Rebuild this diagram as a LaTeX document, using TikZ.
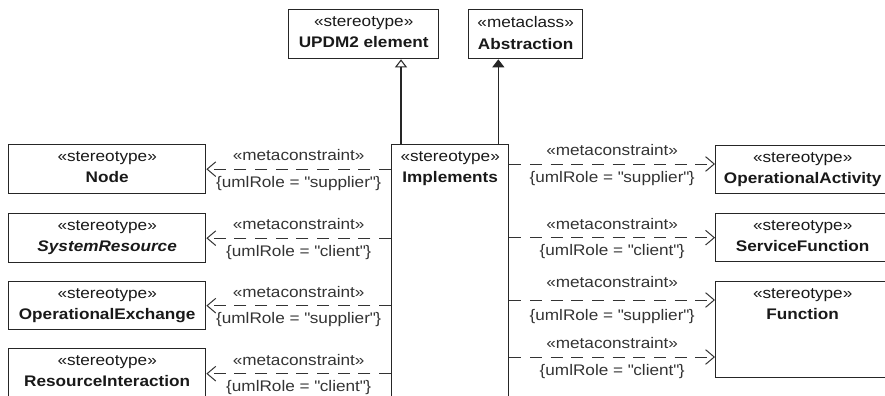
\documentclass[tikz,border=0pt]{standalone}
\usepackage{fontspec}
\setmainfont{Liberation Sans}[FakeStretch=1.12]
\usetikzlibrary{arrows.meta,positioning}

\newcommand{\role}[1]{\{umlRole = \textquotedbl#1\textquotedbl\}}

\tikzset{
  umlbox/.style={draw=black!85, line width=1pt, anchor=north west, inner sep=0pt},
  boxtext/.style={anchor=north, align=center, inner sep=0pt, yshift=-5.5pt, text=black!90},
  metaline/.style={draw=black!80, line width=.75pt, dash pattern=on 9pt off 6.5pt,
    -{Straight Barb[length=6.5pt,width=11pt]}},
  metatop/.style={above=6pt, inner sep=0pt, text=black!80},
  metabot/.style={below=5pt, inner sep=0pt, text=black!80},
  genline/.style={draw=black!85, line width=.8pt, -{Triangle[open,length=6pt,width=9pt]}},
  absline/.style={draw=black!85, line width=.8pt, -{Triangle[length=6pt,width=9pt]}}
}

\begin{document}
\begin{tikzpicture}[x=0.75pt, y=-0.75pt, font=\fontsize{11.5}{16}\selectfont]
\useasboundingbox (0,0) rectangle (885,396);

% general stereotypes on top
\node[umlbox, minimum width=112.5pt, minimum height=36.75pt,
  label={[boxtext]north:«stereotype»\\\textbf{UPDM2 element}}] (updm) at (288,9) {};
\node[umlbox, minimum width=85.5pt, minimum height=36.75pt,
  label={[boxtext]north:«metaclass»\\\textbf{Abstraction}}] (abstr) at (468,9) {};

% the relationship stereotype
\node[umlbox, minimum width=87.75pt, minimum height=192pt,
  label={[boxtext]north:«stereotype»\\\textbf{Implements}}] (impl) at (391,144) {};

% left column
\node[umlbox, minimum width=147.75pt, minimum height=36.75pt,
  label={[boxtext]north:«stereotype»\\\textbf{Node}}] (nde) at (8,144) {};
\node[umlbox, minimum width=147.75pt, minimum height=36.75pt,
  label={[boxtext]north:«stereotype»\\\textbf{\textit{SystemResource}}}] (sysres) at (8,213) {};
\node[umlbox, minimum width=147.75pt, minimum height=36pt,
  label={[boxtext]north:«stereotype»\\\textbf{OperationalExchange}}] (opexch) at (8,281) {};
\node[umlbox, minimum width=147.75pt, minimum height=37.5pt,
  label={[boxtext]north:«stereotype»\\\textbf{ResourceInteraction}}] (resint) at (8,348) {};

% right column
\node[umlbox, minimum width=130.5pt, minimum height=36pt,
  label={[boxtext]north:«stereotype»\\\textbf{OperationalActivity}}] (opact) at (715,145) {};
\node[umlbox, minimum width=130.5pt, minimum height=36pt,
  label={[boxtext]north:«stereotype»\\\textbf{ServiceFunction}}] (svcfn) at (715,213) {};
\node[umlbox, minimum width=130.5pt, minimum height=72pt,
  label={[boxtext]north:«stereotype»\\\textbf{Function}}] (func) at (715,281) {};

% generalization and extension
\coordinate (gen) at ([xshift=7.5pt]impl.north west);
\coordinate (ext) at ([xshift=-8.25pt]impl.north east);
\draw[genline] (gen) -- (gen |- updm.south);
\draw[absline] (ext) -- (ext |- abstr.south);

% metaconstraints to the left
\draw[metaline] (impl.west |- nde.east) -- node[metatop]{«metaconstraint»}
  node[metabot]{\role{supplier}} (nde.east);
\draw[metaline] (impl.west |- sysres.east) -- node[metatop]{«metaconstraint»}
  node[metabot]{\role{client}} (sysres.east);
\draw[metaline] (impl.west |- opexch.east) -- node[metatop]{«metaconstraint»}
  node[metabot]{\role{supplier}} (opexch.east);
\draw[metaline] (impl.west |- resint.east) -- node[metatop]{«metaconstraint»}
  node[metabot]{\role{client}} (resint.east);

% metaconstraints to the right
\draw[metaline] (impl.east |- 0,164) -- node[metatop]{«metaconstraint»}
  node[metabot]{\role{supplier}} (opact.west |- 0,164);
\draw[metaline] (impl.east |- svcfn.west) -- node[metatop]{«metaconstraint»}
  node[metabot]{\role{client}} (svcfn.west);
\draw[metaline] (impl.east |- 0,300) -- node[metatop, yshift=3pt]{«metaconstraint»}
  node[metabot, yshift=-2pt]{\role{supplier}} (func.west |- 0,300);
\draw[metaline] (impl.east |- 0,357) -- node[metatop]{«metaconstraint»}
  node[metabot]{\role{client}} (func.west |- 0,357);
\end{tikzpicture}
\end{document}
